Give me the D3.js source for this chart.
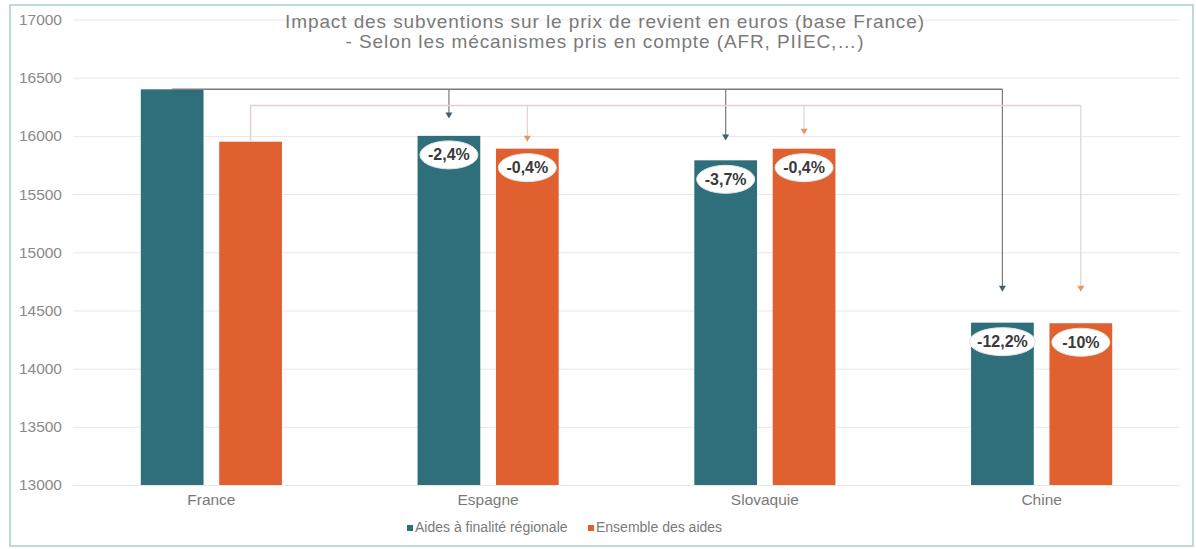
<!DOCTYPE html>
<html>
<head>
<meta charset="utf-8">
<script src="https://cdn.jsdelivr.net/npm/d3@7"></script>
<style>
  body { margin: 0; background: #fff; }
  text { font-family: "Liberation Sans", Arial, sans-serif; }
</style>
</head>
<body>
<svg id="chart" width="1196" height="549"></svg>
<script>
// data
const categories = ["France", "Espagne", "Slovaquie", "Chine"];
const seriesNames = ["Aides à finalité régionale", "Ensemble des aides"];
const aidesRegionales = [16400, 16000, 15790, 14395];
const ensembleAides = [15950, 15890, 15890, 14390];
const labelsRegionales = ["", "-2,4%", "-3,7%", "-12,2%"];
const labelsEnsemble = ["", "-0,4%", "-0,4%", "-10%"];
// level where each arrow tip stops
const tipsRegionales = [null, 16150, 15960, 14660];
const tipsEnsemble = [null, 15950, 16010, 14660];
const ensembleLineLevel = 16260;
const yTicks = [13000, 13500, 14000, 14500, 15000, 15500, 16000, 16500, 17000];

const colors = ["#2f6f7c", "#e0602f"];
const arrowColors = ["#7a7a7a", "#e2d2cf"];
const headColors = ["#3d6468", "#e69468"];

const svg = d3.select("#chart");

// frame
svg.append("rect")
  .attr("x", 10).attr("y", 5).attr("width", 1183).attr("height", 541)
  .attr("fill", "#fff").attr("stroke", "#a9cfcf").attr("stroke-width", 1.5);

const x = d3.scaleBand().domain(categories).range([73, 1180]).paddingInner(0.49).paddingOuter(0.245);
const xs = d3.scaleBand().domain([0, 1]).range([0, x.bandwidth()]).paddingInner(0.2);
const y = d3.scaleLinear().domain([13000, 17000]).range([485, 19.5]);

// grid + y labels
const yAxis = svg.append("g")
  .attr("transform", "translate(73,0)")
  .call(d3.axisLeft(y).tickValues(yTicks).tickSize(-1107).tickPadding(11).tickFormat(d3.format("d")));
yAxis.select(".domain").remove();
yAxis.selectAll(".tick line").attr("stroke", "#e8e8e8");
yAxis.selectAll(".tick text").attr("fill", "#8a8a8a").style("font-size", "15.5px")
  .style("font-family", "Liberation Sans, Arial, sans-serif");

// title
const title = svg.append("text").attr("x", 605).attr("y", 28)
  .attr("text-anchor", "middle").attr("fill", "#7a7a7a")
  .style("font-size", "19px").style("letter-spacing", "0.9px");
title.append("tspan").attr("x", 605).text("Impact des subventions sur le prix de revient en euros (base France)");
title.append("tspan").attr("x", 605).attr("dy", 20).text("- Selon les mécanismes pris en compte (AFR, PIIEC,…)");

// bars
const series = [aidesRegionales, ensembleAides];
series.forEach((vals, s) => {
  svg.append("g").selectAll("rect")
    .data(vals)
    .enter().append("rect")
      .attr("x", (d, i) => x(categories[i]) + xs(s))
      .attr("y", d => y(d))
      .attr("width", xs.bandwidth())
      .attr("height", d => y(13000) - y(d))
      .attr("fill", colors[s]);
});

// x labels
const xAxis = svg.append("g")
  .attr("transform", "translate(0,485)")
  .call(d3.axisBottom(x).tickSize(0).tickPadding(9));
xAxis.select(".domain").remove();
xAxis.selectAll(".tick text").attr("fill", "#7a7a7a").style("font-size", "15.5px")
  .style("font-family", "Liberation Sans, Arial, sans-serif");

// connectors with arrows
const cx = (i, s) => x(categories[i]) + xs(s) + xs.bandwidth() / 2;
const tips = [tipsRegionales, tipsEnsemble];
const lineLevel = [aidesRegionales[0], ensembleLineLevel];
tips.forEach((t, s) => {
  const g = svg.append("g");
  const last = t.length - 1;
  g.append("path")
    .attr("d", d3.line()([[cx(0, s), y(series[s][0])], [cx(0, s), y(lineLevel[s])], [cx(last, s), y(lineLevel[s])]]))
    .attr("fill", "none").attr("stroke", arrowColors[s]).attr("stroke-width", 1.5);
  t.forEach((v, i) => {
    if (v === null) return;
    g.append("line")
      .attr("x1", cx(i, s)).attr("x2", cx(i, s))
      .attr("y1", y(lineLevel[s])).attr("y2", y(v) - 5)
      .attr("stroke", arrowColors[s]).attr("stroke-width", 1.2);
    g.append("path")
      .attr("d", `M${cx(i, s) - 3.5},${y(v) - 6}L${cx(i, s) + 3.5},${y(v) - 6}L${cx(i, s)},${y(v)}Z`)
      .attr("fill", headColors[s]);
  });
});

// percentage bubbles
const labels = [labelsRegionales, labelsEnsemble];
labels.forEach((lab, s) => {
  lab.forEach((txt, i) => {
    if (!txt) return;
    const g = svg.append("g").attr("transform", `translate(${cx(i, s)},${y(series[s][i]) + 19})`);
    g.append("ellipse").attr("rx", txt.length > 5 ? 33 : 29).attr("ry", 14)
      .attr("fill", "#fff").attr("stroke", "#e4e4e4").attr("stroke-width", 1);
    g.append("text").attr("text-anchor", "middle").attr("dy", 5.5)
      .attr("fill", "#3a3a3a").style("font-size", "16px").style("font-weight", "bold")
      .text(txt);
  });
});

// legend
const legend = svg.append("g").attr("transform", "translate(0,532)");
const legendX = [407, 588];
seriesNames.forEach((name, s) => {
  legend.append("rect").attr("x", legendX[s]).attr("y", -7).attr("width", 6).attr("height", 6).attr("fill", colors[s]);
  legend.append("text").attr("x", legendX[s] + 8).attr("fill", "#7a7a7a").style("font-size", "14px").text(name);
});
</script>
</body>
</html>
